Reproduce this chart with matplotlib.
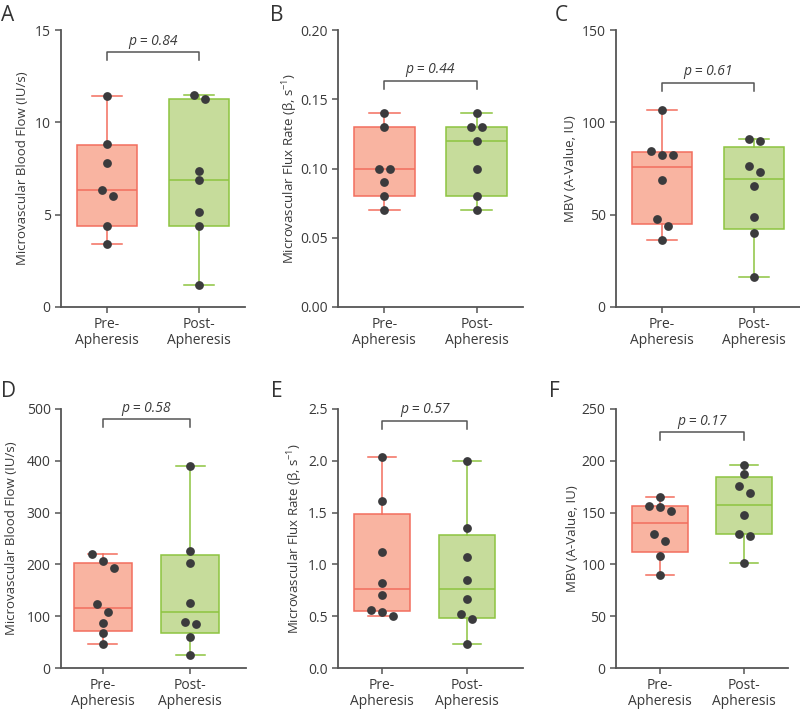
import numpy as np
import matplotlib
matplotlib.use('Agg')
import matplotlib.pyplot as plt
from matplotlib.ticker import FormatStrFormatter

plt.rcParams['font.family'] = ['Open Sans', 'DejaVu Sans']
plt.rcParams['mathtext.default'] = 'regular'

groups = ['Pre-\nApheresis', 'Post-\nApheresis']
letters = ['A', 'B', 'C', 'D', 'E', 'F']
ylabels = ['Microvascular Blood Flow (IU/s)',
           r'Microvascular Flux Rate ($\beta$, s$^{-1}$)',
           'MBV (A-Value, IU)',
           'Microvascular Blood Flow (IU/s)',
           r'Microvascular Flux Rate ($\beta$, s$^{-1}$)',
           'MBV (A-Value, IU)']
p_values = ['0.84', '0.44', '0.61', '0.58', '0.57', '0.17']
y_max = [15, 0.20, 150, 500, 2.5, 250]
y_step = [5, 0.05, 50, 100, 0.5, 50]
y_fmt = ['%d', '%.2f', '%d', '%d', '%.1f', '%d']

# individual patients
a_pre = [11.4, 8.8, 7.8, 6.34, 6.0, 4.39, 3.39]
a_post = [11.48, 11.28, 7.35, 6.86, 5.16, 4.39, 1.19]
b_pre = [0.14, 0.13, 0.10, 0.10, 0.09, 0.08, 0.07]
b_post = [0.14, 0.13, 0.13, 0.12, 0.10, 0.08, 0.07]
c_pre = [106.9, 84.3, 82.5, 82.5, 69.0, 47.7, 44.0, 36.1]
c_post = [91.0, 89.7, 76.5, 72.9, 65.3, 48.6, 40.1, 16.1]
d_pre = [220.7, 207.0, 193.0, 122.9, 108.7, 86.2, 66.9, 45.7]
d_post = [390.0, 225.0, 202.0, 125.0, 89.4, 85.0, 60.0, 24.5]
e_pre = [2.04, 1.61, 1.12, 0.82, 0.70, 0.557, 0.544, 0.505]
e_post = [1.995, 1.347, 1.075, 0.848, 0.667, 0.518, 0.476, 0.236]
f_pre = [164.9, 156.2, 155.6, 151.4, 129.0, 122.9, 108.4, 90.2]
f_post = [196.0, 187.3, 175.6, 168.5, 148.1, 129.4, 127.7, 101.6]

# box stats: whisker low, q1, median, q3, whisker high
a_pre_box = [3.39, 4.39, 6.33, 8.79, 11.4]
a_post_box = [1.19, 4.39, 6.86, 11.28, 11.48]
b_pre_box = [0.07, 0.08, 0.10, 0.13, 0.14]
b_post_box = [0.07, 0.08, 0.12, 0.13, 0.14]
c_pre_box = [36.1, 45.1, 75.8, 83.9, 106.9]
c_post_box = [16.1, 42.2, 69.3, 86.5, 91.0]
d_pre_box = [45.7, 72.0, 115.8, 202.7, 220.7]
d_post_box = [24.5, 67.0, 107.5, 219.0, 390.0]
e_pre_box = [0.505, 0.547, 0.761, 1.483, 2.04]
e_post_box = [0.236, 0.486, 0.761, 1.279, 1.995]
f_pre_box = [90.2, 112.2, 140.4, 156.2, 164.9]
f_post_box = [101.6, 129.4, 157.8, 184.0, 196.0]

dots = [(a_pre, a_post), (b_pre, b_post), (c_pre, c_post),
        (d_pre, d_post), (e_pre, e_post), (f_pre, f_post)]
boxes = [(a_pre_box, a_post_box), (b_pre_box, b_post_box), (c_pre_box, c_post_box),
         (d_pre_box, d_post_box), (e_pre_box, e_post_box), (f_pre_box, f_post_box)]

# layout (pixels in an 800x709 canvas)
W, H = 800, 709
ax_px = [(61, 307, 184, 277), (338, 307, 185, 277), (616, 307, 184, 277),
         (61, 668, 185, 259), (338, 668, 185, 259), (616, 668, 172, 259)]
xlims = [(-0.5, 1.5), (-0.5, 1.5), (-0.5, 1.5),
         (-0.48, 1.64), (-0.52, 1.66), (-0.52, 1.52)]
letter_px = [(1, 5), (270, 5), (555, 5), (1, 381), (271, 381), (549, 381)]
ylabel_x = [-0.207, -0.26, -0.25, -0.265, -0.232, -0.25]
bracket_frac = [0.92, 0.816, 0.81, 0.96, 0.955, 0.91]

fills = ['#F9B4A1', '#C6DC9B']
edges = ['#F26E5E', '#8DC440']
dot_color = '#3B3B3D'
axis_color = '#555555'
text_color = '#3A3A3A'


def swarm_offsets(vals, ppu_y, step_px=11.0, gap_px=8.5):
    vals = np.asarray(vals, dtype=float)
    order = np.argsort(-vals, kind='stable')
    offs = np.zeros(len(vals))
    clusters, cur = [], [order[0]]
    for i in order[1:]:
        if (vals[cur[-1]] - vals[i]) * ppu_y < gap_px:
            cur.append(i)
        else:
            clusters.append(cur)
            cur = [i]
    clusters.append(cur)
    for c in clusters:
        n = len(c)
        for k, i in enumerate(c):
            offs[i] = (k - (n - 1) / 2) * step_px
    return offs


fig = plt.figure(figsize=(W / 100, H / 100), dpi=100)

for k in range(6):
    left, bottom, wpx, hpx = ax_px[k]
    ax = fig.add_axes([left / W, 1 - bottom / H, wpx / W, hpx / H])
    ax.set_xlim(*xlims[k])
    ax.set_ylim(0, y_max[k])
    ppu_x = wpx / (xlims[k][1] - xlims[k][0])
    ppu_y = hpx / y_max[k]

    for g in range(2):
        lo, q1, med, q3, hi = boxes[k][g]
        stats = [dict(whislo=lo, q1=q1, med=med, q3=q3, whishi=hi, fliers=[])]
        ax.bxp(stats, positions=[g], widths=0.66, capwidths=0.33,
               patch_artist=True, showfliers=False, manage_ticks=False,
               boxprops=dict(facecolor=fills[g], edgecolor=edges[g], linewidth=1.1),
               whiskerprops=dict(color=edges[g], linewidth=1.1),
               capprops=dict(color=edges[g], linewidth=1.1),
               medianprops=dict(color=edges[g], linewidth=1.1))
        vals = dots[k][g]
        xo = swarm_offsets(vals, ppu_y) / ppu_x
        ax.scatter(g + xo, vals, s=40, color=dot_color, zorder=5, linewidths=0)

    # significance bracket
    leg = 8 / hpx
    yb = bracket_frac[k]
    trans = ax.get_xaxis_transform()
    ax.plot([0, 0, 1, 1], [yb - leg, yb, yb, yb - leg], color=axis_color,
            lw=1.1, transform=trans, clip_on=False)
    ax.annotate('p = ' + p_values[k], xy=(0.5, yb), xycoords=trans,
                xytext=(0, 2.5), textcoords='offset points', ha='center', va='bottom',
                fontsize=10, style='italic', color=text_color)

    for s in ['top', 'right']:
        ax.spines[s].set_visible(False)
    for s in ['left', 'bottom']:
        ax.spines[s].set_color(axis_color)
        ax.spines[s].set_linewidth(1.3)
    ax.set_yticks(np.arange(0, y_max[k] + y_step[k] / 2, y_step[k]))
    ax.yaxis.set_major_formatter(FormatStrFormatter(y_fmt[k]))
    ax.set_xticks([0, 1])
    ax.set_xticklabels(groups, linespacing=1.05)
    ax.tick_params(axis='both', colors=axis_color, labelcolor=text_color,
                   length=4.5, width=1.1, labelsize=10, pad=3)
    ax.set_ylabel(ylabels[k], fontsize=9.5, color=text_color, va='center')
    ax.yaxis.set_label_coords(ylabel_x[k], 0.5)

    lx, ly = letter_px[k]
    fig.text(lx / W, 1 - ly / H, letters[k], fontsize=15, color='#333333',
             ha='left', va='top')

fig.savefig('out.png', dpi=100)
